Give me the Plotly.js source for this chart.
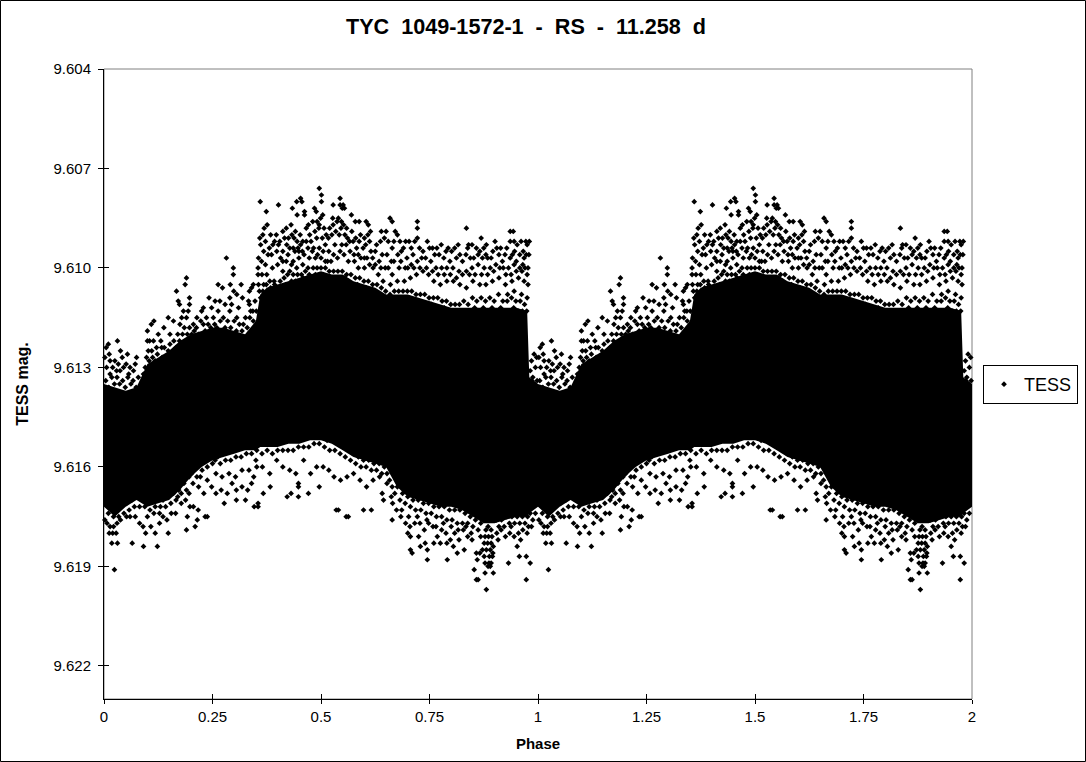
<!DOCTYPE html>
<html><head><meta charset="utf-8">
<script src="https://cdn.plot.ly/plotly-3.0.1.min.js"></script>
<style>html,body{margin:0;padding:0;background:#fff}</style></head>
<body><div id="chart" style="width:1086px;height:762px"></div>
<script>
const chartTitle = "TYC\u00a0 1049-1572-1\u00a0 -\u00a0 RS\u00a0 -\u00a0 11.258\u00a0 d";
const seriesName = "TESS";
const yTickValues = [9.604,9.607,9.610,9.613,9.616,9.619,9.622];
const yTickLabels = ["9.604","9.607","9.610","9.613","9.616","9.619","9.622"];
const xTickValues = [0,0.25,0.5,0.75,1,1.25,1.5,1.75,2];
const xTickLabels = ["0","0.25","0.5","0.75","1","1.25","1.5","1.75","2"];

// Dense, merged part of the cloud: upper and lower edge by phase
const corePhase  = [0,0.025,0.05,0.075,0.1,0.125,0.15,0.175,0.2,0.225,0.25,0.275,0.3,0.325,0.35,0.36,0.375,0.4,0.425,0.45,0.475,0.5,0.525,0.55,0.575,0.6,0.625,0.65,0.675,0.7,0.725,0.75,0.775,0.8,0.825,0.85,0.875,0.9,0.925,0.95,0.975,0.98,1];
const coreTop    = [9.6135,9.6136,9.6137,9.6136,9.6129,9.6127,9.6125,9.6122,9.6120,9.6119,9.6118,9.6118,9.6119,9.6120,9.6116,9.6108,9.6106,9.6105,9.6104,9.6103,9.6102,9.6101,9.6102,9.6102,9.6104,9.6105,9.6106,9.6108,9.6108,9.6108,9.6109,9.6110,9.6111,9.6112,9.6112,9.6112,9.6112,9.6112,9.6112,9.6112,9.6113,9.6133,9.6135];
const coreBottom = [9.6172,9.6175,9.6172,9.6170,9.6172,9.6171,9.6170,9.6167,9.6163,9.6160,9.6158,9.6157,9.6156,9.6155,9.6155,9.6154,9.6154,9.6154,9.6153,9.6153,9.6152,9.6152,9.6153,9.6155,9.6157,9.6158,9.6159,9.6160,9.6166,9.6169,9.6170,9.6171,9.6172,9.6172,9.6173,9.6175,9.6177,9.6177,9.6176,9.6175,9.6175,9.6174,9.6172];

// Separately visible points above the dense part: [phase, mag]
const upperPoints = [
[.010,9.6123],[.005,9.6124],[.031,9.6122],[.012,9.6126],[.014,9.6128],[.002,9.6127],[.038,9.6125],[.054,9.6126],[.042,9.6127],[.033,9.6129],[.075,9.6127],[.072,9.6129],[.060,9.6130],[.045,9.6130],[.025,9.6128],[.068,9.6131],[.037,9.6131],[.079,9.6133],[.014,9.6132],[.006,9.6130],
[.100,9.6119],[.105,9.6122],[.109,9.6117],[.115,9.6116],[.114,9.6122],[.125,9.6120],[.131,9.6122],[.138,9.6118],[.148,9.6115],[.152,9.6120],[.160,9.6116],[.102,9.6125],[.098,9.6127],[.110,9.6125],[.133,9.6124],[.148,9.6125],[.121,9.6124],
[.167,9.6107],[.171,9.6110],[.174,9.6111],[.187,9.6105],[.190,9.6103],[.197,9.6109],[.197,9.6111],[.183,9.6113],[.194,9.6113],[.179,9.6115],[.190,9.6115],[.214,9.6115],[.206,9.6117],[.175,9.6117],[.229,9.6112],[.242,9.6109],[.225,9.6113],[.236,9.6115],[.229,9.6117],[.256,9.6110],[.263,9.6105],[.273,9.6106],[.267,9.6110],[.248,9.6112],[.279,9.6111],[.282,9.6097],[.298,9.6100],[.298,9.6102],[.291,9.6105],[.316,9.6105],[.290,9.6109],[.299,9.6107],[.306,9.6108],[.319,9.6109],[.294,9.6111],[.310,9.6112],[.290,9.6113],[.306,9.6115],[.333,9.6110],[.335,9.6111],[.335,9.6107],[.344,9.6105],[.340,9.6106],[.336,9.6115],[.344,9.6116],[.321,9.6117],[.263,9.6113],[.275,9.6115],[.252,9.6115],
[.360,9.6080],[.402,9.6081],[.374,9.6083],[.434,9.6082],[.444,9.6080],[.453,9.6079],[.456,9.6080],[.462,9.6083],[.462,9.6084],[.445,9.6084],[.496,9.6076],[.501,9.6078],[.501,9.6080],[.485,9.6082],[.489,9.6083],[.504,9.6084],[.499,9.6085],[.496,9.6087],[.528,9.6081],[.544,9.6079],[.544,9.6081],[.551,9.6081],[.554,9.6082],[.549,9.6082],[.570,9.6084],[.579,9.6086],[.588,9.6086],[.604,9.6086],[.609,9.6087],[.614,9.6089],[.527,9.6085],[.540,9.6085],[.547,9.6086],[.659,9.6085],[.664,9.6086],[.722,9.6086],[.722,9.6088],[.722,9.6091],[.835,9.6088],[.936,9.6089],[.943,9.6089],[.869,9.6091],[.840,9.6093],[.848,9.6093],[.936,9.6092],[.945,9.6092],[.972,9.6092],[.980,9.6092],
[.369,9.6088],[.376,9.6087],[.384,9.6090],[.393,9.6092],[.402,9.6093],[.361,9.6093],[.368,9.6095],[.378,9.6096],[.356,9.6097],[.363,9.6098],[.355,9.6100],[.372,9.6099],[.386,9.6096],[.398,9.6095],[.355,9.6102],[.364,9.6102],[.375,9.6102],[.388,9.6100],[.400,9.6099],[.356,9.6105],[.368,9.6105],[.382,9.6104],[.392,9.6104],
[.412,9.6089],[.420,9.6088],[.431,9.6087],[.441,9.6089],[.452,9.6090],[.438,9.6091],[.445,9.6092],[.421,9.6093],[.412,9.6095],[.428,9.6094],[.440,9.6095],[.453,9.6093],[.466,9.6088],[.474,9.6090],[.466,9.6092],[.477,9.6092],[.486,9.6089],[.495,9.6088],[.507,9.6088],[.490,9.6091],[.503,9.6091],[.483,9.6094],[.496,9.6094],[.510,9.6093],[.420,9.6098],[.436,9.6098],[.449,9.6097],[.461,9.6096],[.473,9.6097],[.487,9.6097],[.500,9.6097],[.412,9.6101],[.428,9.6101],[.444,9.6100],[.458,9.6099],[.470,9.6100],[.517,9.6091],[.528,9.6087],[.537,9.6086],[.552,9.6087],[.525,9.6090],[.542,9.6090],[.555,9.6090],[.518,9.6095],[.532,9.6093],[.548,9.6093],[.561,9.6091],[.571,9.6089],[.580,9.6091],[.591,9.6090],[.600,9.6091],[.523,9.6098],[.538,9.6097],[.553,9.6096],[.567,9.6095],[.582,9.6094],[.597,9.6094],[.510,9.6098],[.563,9.6098],[.577,9.6098],[.592,9.6097],[.606,9.6097],[.586,9.6100],[.600,9.6100],[.612,9.6092],[.615,9.6095],
[.639,9.6089],[.646,9.6091],[.655,9.6092],[.664,9.6094],[.671,9.6089],[.676,9.6090],[.682,9.6092],[.625,9.6095],[.634,9.6098],[.641,9.6096],[.652,9.6096],[.662,9.6098],[.677,9.6096],[.690,9.6094],[.703,9.6092],[.712,9.6096],[.698,9.6097],[.620,9.6100],[.632,9.6102],[.648,9.6100],[.664,9.6102],[.680,9.6100],[.694,9.6100],[.708,9.6099],[.722,9.6098],[.735,9.6095],[.741,9.6097],[.750,9.6094],[.753,9.6098],[.643,9.6104],[.660,9.6105],[.676,9.6104],[.692,9.6104],[.706,9.6103],[.720,9.6102],[.735,9.6101],[.748,9.6102],[.762,9.6096],[.772,9.6096],[.783,9.6097],[.793,9.6094],[.801,9.6095],[.812,9.6097],[.820,9.6096],[.765,9.6100],[.778,9.6100],[.790,9.6100],[.804,9.6100],[.818,9.6101],[.760,9.6104],[.775,9.6105],[.790,9.6104],[.805,9.6104],[.820,9.6105],[.834,9.6096],[.844,9.6097],[.858,9.6094],[.866,9.6095],[.875,9.6094],[.881,9.6093],[.884,9.6097],[.896,9.6095],[.905,9.6094],[.835,9.6101],[.848,9.6100],[.862,9.6099],[.876,9.6100],[.890,9.6100],[.903,9.6099],[.835,9.6106],[.850,9.6104],[.866,9.6105],[.880,9.6105],[.895,9.6104],[.910,9.6103],
[.918,9.6098],[.924,9.6096],[.936,9.6097],[.946,9.6095],[.958,9.6096],[.966,9.6095],[.975,9.6093],[.968,9.6097],[.979,9.6096],[.920,9.6100],[.932,9.6100],[.945,9.6099],[.958,9.6100],[.970,9.6100],[.977,9.6100],[.925,9.6105],[.940,9.6104],[.955,9.6103],[.968,9.6104],[.977,9.6105],[.962,9.6108],[.975,9.6109],[.945,9.6107],[.930,9.6108]
];

// More of the cloud's rough upper edge: [phase, mag]
const upperEdgePoints = [
[.004,9.6134],[.011,9.6136],[.018,9.6133],[.024,9.6135],[.030,9.6133],[.036,9.6135],[.043,9.6134],[.049,9.6136],[.055,9.6133],[.062,9.6135],[.067,9.6134],[.074,9.6136],[.020,9.6130],[.029,9.6131],[.051,9.6129],[.057,9.6132],[.082,9.6136],[.086,9.6138],[.091,9.6132],[.095,9.6130],[.100,9.6122],[.104,9.6128],[.108,9.6130],[.112,9.6127],[.118,9.6128],[.123,9.6126],[.127,9.6128],[.134,9.6127],[.139,9.6124],[.143,9.6127],[.152,9.6123],[.157,9.6126],[.161,9.6122],[.166,9.6124],[.170,9.6120],[.174,9.6122],[.181,9.6120],[.185,9.6118],[.192,9.6120],[.197,9.6118],[.202,9.6120],[.208,9.6119],[.213,9.6118],[.218,9.6120],[.223,9.6116],[.233,9.6119],[.240,9.6117],[.246,9.6118],[.255,9.6117],[.260,9.6118],[.268,9.6116],[.279,9.6118],[.285,9.6116],[.292,9.6118],[.300,9.6116],[.305,9.6119],[.312,9.6117],[.318,9.6119],[.326,9.6115],[.330,9.6118],[.338,9.6113],[.343,9.6113],[.348,9.6110],[.351,9.6113],
[.358,9.6107],[.361,9.6109],[.366,9.6107],[.371,9.6108],[.374,9.6105],[.378,9.6107],[.384,9.6106],[.388,9.6107],[.393,9.6105],[.397,9.6107],[.402,9.6106],[.406,9.6104],[.410,9.6106],[.415,9.6103],[.419,9.6105],[.423,9.6102],[.427,9.6105],[.432,9.6104],[.436,9.6102],[.441,9.6104],[.446,9.6102],[.450,9.6104],[.455,9.6102],[.459,9.6103],[.464,9.6101],[.468,9.6103],[.473,9.6102],[.478,9.6103],[.482,9.6100],[.487,9.6102],[.491,9.6100],[.496,9.6102],[.500,9.6100],[.505,9.6102],[.510,9.6100],[.514,9.6103],[.519,9.6101],[.524,9.6103],[.529,9.6101],[.534,9.6103],[.539,9.6101],[.544,9.6103],[.549,9.6101],[.554,9.6103],[.559,9.6102],[.564,9.6104],[.569,9.6102],[.574,9.6105],[.579,9.6103],[.584,9.6105],[.589,9.6103],[.594,9.6106],[.599,9.6104],[.604,9.6106],[.609,9.6104],[.614,9.6107],[.619,9.6105],[.624,9.6107],[.629,9.6105],[.634,9.6108],[.639,9.6106],[.644,9.6109],[.649,9.6107],[.654,9.6109],[.659,9.6108],[.664,9.6109],[.669,9.6107],[.674,9.6109],[.679,9.6107],[.684,9.6109],[.689,9.6107],[.694,9.6109],[.699,9.6107],[.704,9.6109],[.709,9.6107],[.714,9.6110],[.719,9.6108],[.724,9.6110],[.729,9.6108],[.734,9.6111],[.739,9.6108],[.744,9.6111],[.749,9.6109],[.754,9.6111],[.759,9.6109],[.764,9.6112],[.769,9.6109],[.774,9.6112],[.779,9.6110],[.784,9.6112],[.789,9.6110],[.794,9.6113],[.799,9.6111],[.804,9.6113],[.809,9.6111],[.814,9.6113],[.819,9.6111],[.824,9.6113],[.829,9.6110],[.834,9.6113],[.839,9.6111],[.844,9.6113],[.849,9.6109],[.854,9.6112],[.859,9.6110],[.864,9.6113],[.869,9.6109],[.874,9.6112],[.879,9.6110],[.884,9.6113],[.889,9.6109],[.894,9.6112],[.899,9.6110],[.904,9.6113],[.909,9.6108],[.914,9.6112],[.919,9.6110],[.924,9.6113],[.929,9.6110],[.934,9.6113],[.939,9.6109],[.944,9.6112],[.949,9.6110],[.954,9.6113],[.959,9.6110],[.964,9.6113],[.969,9.6111],[.974,9.6113],
[.412,9.6098],[.424,9.6096],[.432,9.6099],[.447,9.6094],[.457,9.6095],[.470,9.6094],[.480,9.6095],[.492,9.6096],[.505,9.6095],[.515,9.6098],[.529,9.6096],[.544,9.6095],[.558,9.6093],[.574,9.6092],[.586,9.6096],[.600,9.6097],[.612,9.6099],[.625,9.6099],[.638,9.6100],[.655,9.6100],[.668,9.6098],[.684,9.6098],[.700,9.6100],[.714,9.6100],[.728,9.6100],[.743,9.6100],[.757,9.6101],[.770,9.6102],[.784,9.6102],[.798,9.6102],[.812,9.6103],[.826,9.6102],[.842,9.6102],[.855,9.6102],[.870,9.6102],[.884,9.6102],[.898,9.6101],[.912,9.6100],[.926,9.6102],[.938,9.6102],[.950,9.6101],[.963,9.6101],[.975,9.6102],
[.982,9.6131],[.985,9.6128],[.988,9.6133],[.991,9.6126],[.994,9.6130],[.997,9.6127],[.986,9.6134],[.992,9.6135],[.998,9.6134],
[.359,9.6091],[.366,9.6090],[.372,9.6092],[.381,9.6094],[.389,9.6093],[.397,9.6090],[.405,9.6092],[.407,9.6097],[.416,9.6091],[.425,9.6091],[.433,9.6090],[.436,9.6094],[.449,9.6095],[.458,9.6092],[.471,9.6087],[.481,9.6086],[.491,9.6086],[.512,9.6090],[.520,9.6088],[.534,9.6089],[.546,9.6088],[.559,9.6088],[.566,9.6092],[.576,9.6096],[.588,9.6092],[.603,9.6093],[.608,9.6090],[.619,9.6097],[.628,9.6093],[.637,9.6092],[.650,9.6089],[.668,9.6092],[.685,9.6095],[.695,9.6092],[.708,9.6094],[.716,9.6092],[.727,9.6094],[.732,9.6097],[.745,9.6092],[.757,9.6094],[.767,9.6094],[.777,9.6093],[.788,9.6095],[.797,9.6098],[.808,9.6094],[.816,9.6093],[.826,9.6098],[.838,9.6094],[.852,9.6097],[.862,9.6096],[.872,9.6097],[.880,9.6096],[.892,9.6097],[.901,9.6092],[.910,9.6096],[.914,9.6094],[.928,9.6094],[.941,9.6096],[.952,9.6093],[.961,9.6092],[.973,9.6096],[.950,9.6098],[.965,9.6099]
];

// Separately visible points below the dense part: [phase, mag]
const lowerPoints = [
[.024,9.6191],[.065,9.6183],[.091,9.6184],[.123,9.6184],[.031,9.6183],[.018,9.6183],[.002,9.6176],[.148,9.6180],[.190,9.6179],[.210,9.6178],[.215,9.6176],[.192,9.6175],[.233,9.6175],[.238,9.6175],[.198,9.6172],[.206,9.6172],[.217,9.6173],
[.346,9.6172],[.355,9.6172],[.355,9.6171],[.277,9.6171],[.305,9.6170],[.326,9.6170],[.331,9.6167],[.422,9.6169],[.431,9.6168],[.448,9.6169],[.471,9.6168],[.448,9.6166],[.448,9.6165],[.496,9.6166],[.383,9.6166],[.367,9.6168],
[.558,9.6175],[.563,9.6175],[.540,9.6173],[.535,9.6173],[.598,9.6173],[.616,9.6173],[.664,9.6176],[.644,9.6170],[.641,9.6168],[.706,9.6181],[.706,9.6185],[.710,9.6186],[.729,9.6184],[.745,9.6185],[.745,9.6188],[.791,9.6188],[.814,9.6186],[.830,9.6185],[.853,9.6191],[.858,9.6194],[.862,9.6194],[.878,9.6192],[.881,9.6197],[.897,9.6192],[.932,9.6189],[.952,9.6184],[.957,9.6187],[.973,9.6187],[.973,9.6194],[.982,9.6189],
[.880,9.6179],[.885,9.6178],[.892,9.6179],[.878,9.6181],[.886,9.6181],[.894,9.6181],[.876,9.6183],[.884,9.6183],[.892,9.6183],[.897,9.6184],[.872,9.6185],[.881,9.6185],[.890,9.6185],[.896,9.6186],[.858,9.6186],[.866,9.6186],[.876,9.6187],[.888,9.6187],[.895,9.6187],[.860,9.6188],[.878,9.6189],[.887,9.6189],[.892,9.6189],[.885,9.6190],[.890,9.6190],
[.007,9.6177],[.014,9.6178],[.022,9.6178],[.030,9.6177],[.038,9.6176],[.012,9.6180],[.020,9.6180],[.028,9.6180],[.052,9.6175],[.060,9.6175],[.072,9.6175],[.082,9.6177],[.090,9.6178],[.096,9.6180],[.108,9.6178],[.118,9.6180],[.128,9.6177],[.136,9.6175],[.145,9.6176],[.100,9.6175],[.115,9.6174],[.128,9.6174],[.155,9.6174],[.165,9.6174],[.178,9.6171],[.188,9.6170],[.170,9.6169],[.196,9.6168],[.205,9.6165],[.218,9.6166],[.230,9.6168],[.222,9.6163],[.238,9.6164],[.248,9.6166],[.258,9.6168],[.270,9.6167],[.284,9.6168],[.295,9.6165],[.305,9.6167],[.318,9.6166],[.340,9.6165],[.352,9.6160],[.345,9.6163],[.258,9.6162],[.272,9.6163],[.288,9.6162],[.303,9.6163],[.318,9.6161],[.334,9.6161],[.350,9.6158],[.365,9.6160],[.382,9.6162],[.398,9.6158],[.412,9.6160],[.428,9.6161],[.442,9.6162],[.460,9.6158],[.476,9.6162],[.490,9.6160],[.505,9.6160],[.518,9.6161],[.530,9.6163],[.545,9.6164],[.560,9.6163],[.575,9.6162],[.590,9.6164],[.605,9.6166],[.620,9.6164],[.635,9.6163],[.652,9.6165],[.665,9.6171],[.674,9.6173],[.684,9.6175],[.695,9.6177],[.705,9.6178],[.716,9.6177],[.728,9.6177],[.738,9.6179],[.748,9.6177],[.758,9.6178],[.768,9.6181],[.778,9.6179],[.788,9.6180],[.798,9.6182],[.808,9.6180],[.818,9.6182],[.828,9.6179],[.838,9.6181],[.848,9.6182],[.905,9.6180],[.915,9.6179],[.925,9.6181],[.935,9.6180],[.945,9.6181],[.955,9.6180],[.965,9.6179],[.975,9.6180],[.985,9.6178],[.775,9.6183],[.790,9.6183],[.805,9.6184],[.760,9.6183],[.725,9.6181],[.740,9.6183],[.700,9.6180]
];

// More of the cloud's rough lower edge: [phase, mag]
const lowerEdgePoints = [
[.004,9.6171],[.010,9.6174],[.016,9.6172],[.022,9.6175],[.028,9.6173],[.034,9.6175],[.040,9.6172],[.046,9.6174],[.052,9.6171],[.058,9.6173],[.064,9.6170],[.070,9.6172],[.076,9.6169],[.082,9.6172],[.088,9.6170],[.094,9.6172],[.100,9.6171],[.106,9.6173],[.112,9.6170],[.118,9.6172],[.124,9.6170],[.130,9.6172],[.136,9.6170],[.142,9.6172],[.148,9.6169],[.154,9.6171],[.160,9.6168],[.166,9.6170],[.172,9.6167],[.178,9.6168],[.184,9.6165],[.190,9.6167],[.196,9.6163],[.202,9.6162],[.208,9.6161],[.214,9.6163],[.220,9.6159],[.226,9.6161],[.232,9.6158],[.238,9.6160],[.244,9.6157],[.250,9.6159],[.256,9.6158],[.262,9.6157],[.268,9.6159],[.274,9.6156],[.280,9.6158],[.286,9.6155],[.292,9.6158],[.298,9.6155],[.304,9.6157],[.310,9.6154],[.316,9.6157],[.322,9.6154],[.328,9.6156],[.334,9.6153],[.340,9.6156],[.346,9.6153],[.352,9.6155],[.358,9.6153],[.364,9.6156],[.370,9.6153],[.376,9.6155],[.382,9.6153],[.388,9.6156],[.394,9.6153],[.400,9.6155],[.406,9.6152],[.412,9.6155],[.418,9.6152],[.424,9.6155],[.430,9.6152],[.436,9.6155],[.442,9.6151],[.448,9.6154],[.454,9.6151],[.460,9.6154],[.466,9.6151],[.472,9.6154],[.478,9.6151],[.484,9.6153],[.490,9.6151],[.496,9.6153],[.502,9.6151],[.508,9.6154],[.514,9.6152],[.520,9.6155],[.526,9.6152],[.532,9.6155],[.538,9.6153],[.544,9.6156],[.550,9.6154],[.556,9.6157],[.562,9.6155],[.568,9.6158],[.574,9.6156],[.580,9.6159],[.586,9.6157],[.592,9.6160],[.598,9.6158],[.604,9.6160],[.610,9.6158],[.616,9.6161],[.622,9.6159],[.628,9.6161],[.634,9.6159],[.640,9.6162],[.646,9.6160],[.652,9.6162],[.658,9.6164],[.664,9.6166],[.670,9.6168],[.676,9.6166],[.682,9.6170],[.688,9.6168],[.694,9.6171],[.700,9.6169],[.706,9.6172],[.712,9.6170],[.718,9.6173],[.724,9.6170],[.730,9.6173],[.736,9.6171],[.742,9.6174],[.748,9.6171],[.754,9.6174],[.760,9.6172],[.766,9.6175],[.772,9.6172],[.778,9.6175],[.784,9.6172],[.790,9.6176],[.796,9.6173],[.802,9.6176],[.808,9.6173],[.814,9.6177],[.820,9.6173],[.826,9.6177],[.832,9.6174],[.838,9.6177],[.844,9.6175],[.850,9.6178],[.856,9.6176],[.862,9.6179],[.868,9.6177],[.874,9.6176],[.904,9.6176],[.910,9.6178],[.916,9.6176],[.922,9.6178],[.928,9.6175],[.934,9.6177],[.940,9.6175],[.946,9.6177],[.952,9.6175],[.958,9.6177],[.964,9.6175],[.970,9.6177],[.976,9.6175],[.982,9.6174],[.988,9.6176],[.994,9.6174],
[.662,9.6169],[.686,9.6173],[.702,9.6175],[.722,9.6175],[.744,9.6176],[.765,9.6178],[.782,9.6177],[.800,9.6178],[.816,9.6179],[.834,9.6178],[.846,9.6180],[.868,9.6181],[.908,9.6182],[.938,9.6178],[.960,9.6182],[.978,9.6178]
];

const ptsX = [], ptsY = [];
[upperPoints, upperEdgePoints, lowerPoints, lowerEdgePoints].forEach(list => list.forEach(p => { ptsX.push(p[0]); ptsY.push(p[1]); }));
// The phased curve is plotted twice: phase and phase + 1
const allX = ptsX.concat(ptsX.map(v => v + 1));
const allY = ptsY.concat(ptsY);

function coreLoop(shift){
  const xs = corePhase.map(v => v + shift);
  return {x: xs.concat(xs.slice().reverse(), [null]),
          y: coreTop.concat(coreBottom.slice().reverse(), [null])};
}
const c0 = coreLoop(0), c1 = coreLoop(1);

const fontName = '"Liberation Sans", Arial, sans-serif';
const traces = [
 {type:'scatter',mode:'lines',x:c0.x.concat(c1.x),y:c0.y.concat(c1.y),fill:'toself',fillcolor:'#000',
  line:{width:0,color:'#000'},showlegend:false,hoverinfo:'skip'},
 {type:'scatter',mode:'markers',name:seriesName,x:allX,y:allY,cliponaxis:false,
  marker:{symbol:'diamond',size:4.4,color:'#000',line:{width:0}}},
 {type:'scatter',mode:'markers',x:[0],y:[9.604],xaxis:'x2',yaxis:'y2',showlegend:false,hoverinfo:'skip',
  marker:{opacity:0}}
];
const W=1086,H=762,L=104,R=972,T=69,B=699;
const pw=R-L,ph=B-T;
const layout = {
 width:W,height:H,paper_bgcolor:'#fff',plot_bgcolor:'#fff',
 margin:{l:L,r:W-R,t:T,b:H-B,pad:0},
 font:{family:fontName,size:15,color:'#000'},
 title:{text:chartTitle,font:{family:fontName,size:21.6,color:'#000',weight:700},x:526/W,xanchor:'center',y:1-26/H,yanchor:'middle'},
 xaxis:{range:[0,2],tickvals:xTickValues,ticktext:xTickLabels,ticks:'outside',ticklen:4,tickwidth:1,tickcolor:'#000',
   showline:true,linecolor:'#000',linewidth:1,showgrid:false,zeroline:false,
   title:{text:'Phase',font:{family:fontName,size:15,weight:700},standoff:14},tickfont:{family:fontName,size:15}},
 yaxis:{range:[9.623,9.604],tickvals:yTickValues,ticktext:yTickLabels,ticks:'outside',ticklen:5,tickwidth:1,tickcolor:'#000',
   showline:true,linecolor:'#000',linewidth:1,showgrid:false,zeroline:false,ticklabelstandoff:4,
   title:{text:'TESS mag.',font:{family:fontName,size:16,weight:700},standoff:20},tickfont:{family:fontName,size:15}},
 xaxis2:{range:[0,2],overlaying:'x',tickvals:xTickValues,ticks:'inside',ticklen:5,tickwidth:1,tickcolor:'#000',
   showticklabels:false,showgrid:false,zeroline:false,showline:false},
 yaxis2:{range:[9.623,9.604],overlaying:'y',tickvals:yTickValues,ticks:'inside',ticklen:5,tickwidth:1,tickcolor:'#000',
   showticklabels:false,showgrid:false,zeroline:false,showline:false},
 showlegend:true,
 legend:{xref:'container',yref:'container',x:983/W,y:1-365/H,xanchor:'left',yanchor:'top',bgcolor:'#fff',bordercolor:'#000',borderwidth:1,
   font:{family:fontName,size:18,color:'#000'},itemwidth:30},
 shapes:[
  {type:'rect',xref:'paper',yref:'paper',x0:0,x1:1,y0:0,y1:1,line:{color:'#808080',width:1},layer:'below'},
  {type:'rect',xref:'paper',yref:'paper',x0:(0.5-L)/pw,x1:(W-0.5-L)/pw,y0:(B-H+0.5)/ph,y1:(B-0.5)/ph,line:{color:'#000',width:1},layer:'below'}
 ]
};
Plotly.newPlot('chart',traces,layout,{displayModeBar:false,staticPlot:true});
</script></body></html>
